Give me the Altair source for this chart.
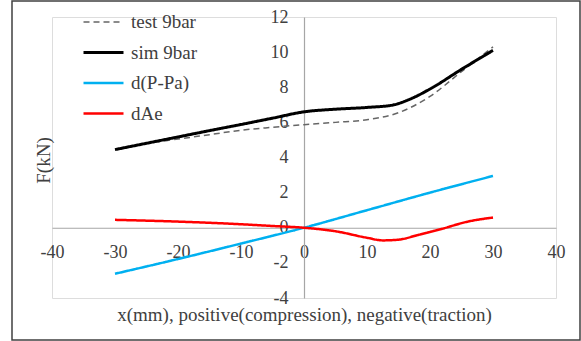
import altair as alt
import pandas as pd

series_names = ["test 9bar", "sim 9bar", "d(P-Pa)", "dAe"]

test_x = [-30, -25, -20, -15, -10, -5, 0, 5, 10, 15, 20, 25, 30]
test_y = [4.45, 4.8, 5.05, 5.3, 5.55, 5.72, 5.87, 6.0, 6.15, 6.55, 7.48, 8.89, 10.3]

sim_x = [-30, -25, -20, -15, -10, -5, 0, 5, 10, 14, 17, 20, 25, 30]
sim_y = [4.45, 4.81, 5.17, 5.53, 5.88, 6.24, 6.6, 6.75, 6.85, 6.98, 7.35, 7.9, 9.02, 10.1]

dp_x = [-30, -20, -10, 0, 10, 20, 30]
dp_y = [-2.62, -1.78, -0.9, 0, 1.0, 2.0, 2.95]

dae_x = [-30, -20, -10, -5, 0, 5, 10, 12.5, 15, 18, 22, 26, 30]
dae_y = [0.45, 0.35, 0.2, 0.1, 0, -0.2, -0.57, -0.72, -0.68, -0.42, -0.05, 0.35, 0.58]

x_ticks = [-40, -30, -20, -10, 0, 10, 20, 30, 40]
y_ticks = [-4, -2, 0, 2, 4, 6, 8, 10, 12]

rows = []
for name, xs, ys in zip(series_names, [test_x, sim_x, dp_x, dae_x], [test_y, sim_y, dp_y, dae_y]):
    for i, (xv, yv) in enumerate(zip(xs, ys)):
        rows.append({"series": name, "x": xv, "y": yv, "order": i})
df = pd.DataFrame(rows)

FONT = "Liberation Serif, Times New Roman, serif"
TXT = "#404040"
AX = "#a6a6a6"

W, H = 504, 281

legend = alt.Legend(
    title=None, orient="none", legendX=30, legendY=-5, padding=0,
    symbolType="stroke", symbolSize=1600, clipHeight=20, rowPadding=10.5,
    labelFont=FONT, labelFontSize=19, labelColor=TXT, labelOffset=6, labelLimit=300,
)

lines = alt.Chart(df).mark_line(interpolate="monotone").encode(
    x=alt.X("x:Q", scale=alt.Scale(domain=[-40, 40], nice=False),
            axis=alt.Axis(values=x_ticks, offset=-(H * 4 / 16), ticks=False, grid=False,
                          domainColor=AX, domainWidth=1.2, labelFont=FONT, labelFontSize=18,
                          labelColor=TXT, labelPadding=16, labelFlush=False,
                          labelExpr="'' + datum.value",
                          title="x(mm), positive(compression), negative(traction)",
                          titleFont=FONT, titleFontSize=19, titleFontWeight="normal",
                          titleColor=TXT, titleY=87, titleBaseline="middle")),
    y=alt.Y("y:Q", scale=alt.Scale(domain=[-4, 12], nice=False),
            axis=alt.Axis(values=y_ticks, offset=-(W / 2), ticks=False, grid=False,
                          domainColor=AX, domainWidth=1.2, labelFont=FONT, labelFontSize=18,
                          labelColor=TXT, labelPadding=16, labelFlush=False,
                          labelExpr="'' + datum.value",
                          title="F(kN)", titleFont=FONT, titleFontSize=19,
                          titleFontWeight="normal", titleColor=TXT, titleX=-261, titleY=143,
                          titleAngle=270, titleAlign="center", titleBaseline="middle")),
    color=alt.Color("series:N", scale=alt.Scale(domain=series_names,
                    range=["#666666", "#000000", "#00b0f0", "#ff0000"]), legend=legend),
    strokeDash=alt.StrokeDash("series:N", scale=alt.Scale(domain=series_names,
                    range=[[6, 4], [1, 0], [1, 0], [1, 0]]), legend=legend),
    strokeWidth=alt.StrokeWidth("series:N", scale=alt.Scale(type="ordinal", domain=series_names,
                    range=[1.5, 3, 2.5, 2.5]), legend=legend),
    order="order:Q",
)

border = alt.Chart(pd.DataFrame({"a": [0]})).mark_rect(
    filled=False, stroke="#404040", strokeWidth=1.5
).encode(x=alt.value(-40), x2=alt.value(528), y=alt.value(-16), y2=alt.value(323))

chart = alt.layer(border, lines).properties(
    width=W, height=H,
    autosize=alt.AutoSizeParams(type="none"),
    padding={"left": 52, "top": 17, "right": 25, "bottom": 43},
).configure_view(stroke=None).configure(background="white", font=FONT).configure_legend(
    labelFont=FONT, labelFontSize=19, labelColor=TXT
).configure_axis(labelFont=FONT, titleFont=FONT)

chart.save("out.html", embed_options={"renderer": "svg", "actions": False})
